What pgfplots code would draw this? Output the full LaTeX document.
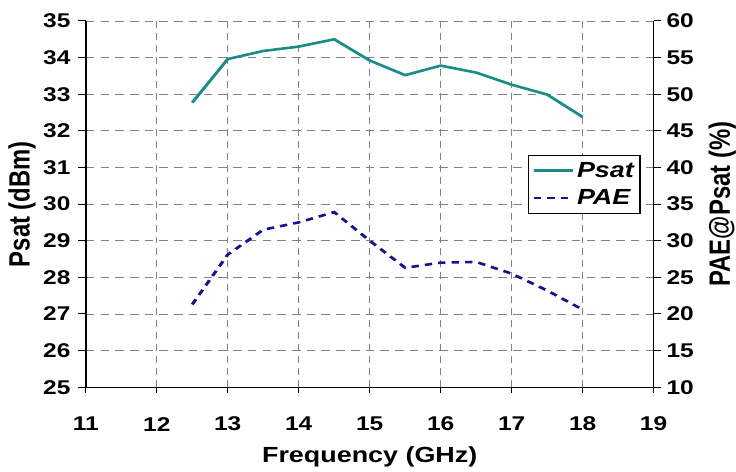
\documentclass[border=0pt]{standalone}
\usepackage{graphicx}
\usepackage{pgfplots}
\pgfplotsset{compat=1.18}
\usepackage{fontspec}
\setmainfont{Liberation Sans}
\definecolor{psatc}{RGB}{28,140,136}
\definecolor{paec}{RGB}{20,20,140}
\definecolor{gridc}{RGB}{130,130,130}
\begin{document}
\scalebox{1.23}[1]{%
\begin{tikzpicture}
\pgfplotsset{
  every axis/.append style={
    width=462.6bp, height=367bp, scale only axis,
    /pgf/number format/assume math mode=true,
    tick label style={font=\fontsize{20}{20}\selectfont\bfseries},
    tick align=outside,
    major tick length=6bp,
    axis line style={line width=1.3bp},
    every tick/.style={line width=1bp, black},
  }
}
\begin{axis}[
  xmin=11, xmax=19, ymin=25, ymax=35,
  xtick={11,...,19}, ytick={25,...,35},
  axis y line*=left, axis x line*=bottom,
  grid=major,
  major grid style={gridc, dash pattern=on 7bp off 5bp, line width=0.8bp},
  xlabel={Frequency (GHz)}, ylabel={Psat (dBm)},
  xlabel style={font=\fontsize{22}{22}\selectfont\bfseries, at={(axis description cs:0.5,0)}, anchor=center, inner sep=0pt, yshift=-70bp},
  ylabel style={font=\fontsize{24}{24}\selectfont\bfseries, at={(axis description cs:0,0.5)}, anchor=center, inner sep=0pt, yshift=52bp},
  xticklabel style={anchor=center, yshift=-31bp},
  yticklabel style={xshift=-3bp},
]
\addplot[psatc, line width=2.6bp] coordinates {
(12.5,32.77) (13,33.96) (13.5,34.18) (14,34.30) (14.5,34.50) (15,33.92)
(15.5,33.52) (16,33.78) (16.5,33.59) (17,33.26) (17.5,32.99) (18,32.38)};
\end{axis}
\begin{axis}[
  xmin=11, xmax=19, ymin=10, ymax=60,
  ytick={10,15,...,60},
  axis y line*=right, axis x line=none,
  ylabel={PAE@Psat (\%)},
  ylabel style={font=\fontsize{24}{24}\selectfont\bfseries, at={(axis description cs:1,0.5)}, anchor=center, inner sep=0pt, yshift=-56bp},
  yticklabel style={xshift=1bp},
  legend style={at={(0.977,0.635)}, anchor=north east, draw=black, line width=0.9bp,
    font=\fontsize{22}{22}\selectfont\bfseries\itshape, row sep=7bp, inner ysep=5bp, inner xsep=3bp},
  legend cell align=left,
  legend image code/.code={\draw[#1] (0bp,0bp) -- (32bp,0bp);},
]
\addlegendimage{psatc, line width=2.6bp}
\addlegendentry{Psat}
\addplot[paec, line width=2.6bp, dash pattern=on 6bp off 5bp] coordinates {
(12.5,21.3) (13,28.1) (13.5,31.5) (14,32.5) (14.5,33.9) (15,30.0)
(15.5,26.3) (16,27.0) (16.5,27.1) (17,25.5) (17.5,23.2) (18,20.6)};
\addlegendentry{PAE}
\end{axis}
\path (-69.9bp,-84bp) rectangle (528.5bp,388bp);
\end{tikzpicture}}
\end{document}
